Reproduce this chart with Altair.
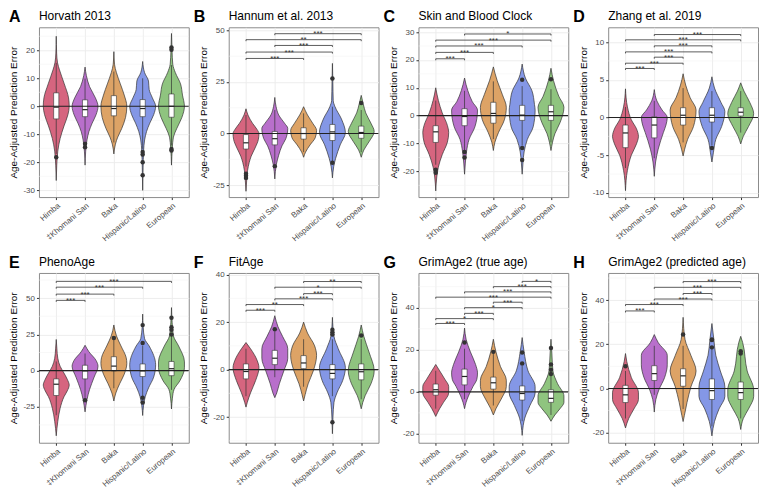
import altair as alt
import pandas as pd

GROUPS = ["Himba", "‡Khomani San", "Baka", "Hispanic/Latino", "European"]
COLORS = ["#D6657F", "#B86FCB", "#DDA366", "#8497E6", "#8FC47F"]

LETTERS = ["A", "B", "C", "D", "E", "F", "G", "H"]
TITLES = ["Horvath 2013", "Hannum et al. 2013", "Skin and Blood Clock", "Zhang et al. 2019",
          "PhenoAge", "FitAge", "GrimAge2 (true age)", "GrimAge2 (predicted age)"]
Y_DOMAINS = [[-32.4, 28.2], [-30.8, 51.5], [-29.2, 31.7], [-10.55, 11.96],
             [-49.8, 67.4], [-30.8, 40.7], [-24.2, 56.5], [-24.6, 52.3]]
Y_TICKS = [[-30, -20, -10, 0, 10, 20], [-25, 0, 25, 50], [-20, -10, 0, 10, 20, 30],
           [-10, -5, 0, 5, 10], [-25, 0, 25, 50], [-20, 0, 20, 40], [-20, 0, 20, 40],
           [-20, 0, 20, 40]]

# violin profiles: (value, relative half-width) per group
HORVATH_VIOLINS = [
    [(25, 0), (19, 0.03), (15.5, 0.1), (13, 0.25), (8, 0.62), (3, 0.95), (0, 1.0), (-3, 0.9), (-7, 0.6), (-11.5, 0.3), (-16, 0.12), (-21, 0.04), (-26.5, 0)],
    [(14, 0), (11, 0.1), (7, 0.35), (3, 0.8), (0, 1.0), (-3, 0.85), (-6, 0.55), (-9, 0.3), (-12, 0.15), (-16, 0.05), (-21, 0)],
    [(19.5, 0), (15, 0.05), (12, 0.2), (8, 0.5), (4, 0.8), (0, 1.0), (-4, 0.9), (-8, 0.6), (-11, 0.3), (-13.5, 0.12), (-17, 0)],
    [(16, 0), (12, 0.15), (9, 0.45), (6, 0.5), (3, 0.75), (0, 1.0), (-3, 0.85), (-6, 0.55), (-9, 0.3), (-12, 0.15), (-16, 0.07), (-22, 0.03), (-30, 0)],
    [(26, 0), (20, 0.04), (15, 0.1), (12, 0.3), (8, 0.7), (4, 0.85), (0, 1.0), (-4, 0.8), (-8, 0.4), (-11, 0.15), (-15, 0.06), (-21, 0)],
]
HORVATH_BOXES = [(-17, -4.5, -0.3, 4.8, 15.5), (-12.6, -3.7, -1.2, 2.3, 9.9), (-12.9, -3.4, -0.8, 3.8, 12.4),
                 (-15.2, -3.7, -0.8, 2.4, 10), (-14, -3.9, 0, 4.4, 14.7)]
HORVATH_OUTLIERS = [[-18.2], [-13.4, -14.6], [], [-16.3, -17.2, -20, -24.6], [20.2, 21, -15.2, -15.8]]
HORVATH_SIG = []

HANNUM_VIOLINS = [
    [(12, 0), (9, 0.15), (5, 0.5), (2, 0.85), (0, 1.0), (-3, 0.95), (-7, 0.7), (-11, 0.4), (-14, 0.25), (-18, 0.12), (-22, 0.06), (-28, 0)],
    [(17.5, 0), (13, 0.1), (9, 0.3), (5, 0.75), (2.5, 1.0), (-2.5, 0.85), (-6, 0.55), (-10.5, 0.3), (-15, 0.12), (-22, 0)],
    [(13, 0), (9, 0.3), (5, 0.7), (1.5, 1.0), (-2, 0.9), (-5.5, 0.5), (-9, 0.15), (-11.5, 0)],
    [(34, 0), (25, 0.03), (16, 0.06), (13, 0.2), (7, 0.7), (0.5, 1.0), (-5.5, 0.6), (-12, 0.25), (-16, 0.1), (-21.5, 0)],
    [(18.5, 0), (14.5, 0.15), (10, 0.35), (5, 0.75), (1, 1.0), (-4, 0.6), (-8, 0.2), (-11.5, 0)],
]
HANNUM_BOXES = [(-16, -7.5, -4.5, -0.5, 9), (-15, -5.5, -2.5, 1, 11.4), (-9, -2.7, 0, 2.8, 9.8),
                (-13.6, -3.4, 0.8, 4.4, 13), (-9, -2.3, 0.5, 3.6, 11.4)]
HANNUM_OUTLIERS = [[-19.5, -20.5, -21.5], [-15.8], [], [26.7, -14.2], [14.8]]
HANNUM_SIG = [(1, 3, 36.4, "***"), (1, 4, 39.5, "***"), (2, 4, 42.7, "***"), (1, 5, 45.5, "**"), (2, 5, 48.4, "***")]

SKINBLOOD_VIOLINS = [
    [(10, 0), (5.5, 0.2), (1, 0.5), (-3.5, 0.9), (-6, 1.0), (-9.5, 0.9), (-14, 0.5), (-18.5, 0.2), (-22, 0.08), (-27, 0)],
    [(13.5, 0), (9, 0.25), (5, 0.6), (2, 1.0), (-1, 0.95), (-4, 0.8), (-8.5, 0.35), (-13, 0.15), (-17, 0.06), (-21, 0)],
    [(17.5, 0), (12.5, 0.3), (7.5, 0.7), (3, 1.0), (-1.5, 0.85), (-6, 0.4), (-9.5, 0.12), (-12.5, 0)],
    [(18.5, 0), (13.5, 0.25), (9, 0.75), (4, 0.95), (2, 1.0), (-4, 0.85), (-8.5, 0.4), (-13, 0.15), (-17, 0.06), (-21, 0)],
    [(17, 0), (12.5, 0.2), (7, 0.6), (3, 1.0), (-2.5, 0.7), (-6.5, 0.3), (-9.5, 0.12), (-12.5, 0)],
]
SKINBLOOD_BOXES = [(-17.6, -9.6, -5.8, -3.6, 5.4), (-12.5, -3.6, -0.3, 2.5, 8.9), (-8.4, -2.7, 0.8, 4.8, 12.3),
                   (-10.7, -1.7, 0.2, 3.7, 10.6), (-9.6, -1.7, 1.4, 3.7, 9.5)]
SKINBLOOD_OUTLIERS = [[-19.4, -20.5], [-13, -15], [], [12.9, -11.6, -15.9], [13.1]]
SKINBLOOD_SIG = [(1, 2, 20.4, "***"), (1, 3, 22.7, "***"), (1, 4, 25, "***"), (1, 5, 27.1, "***"), (2, 5, 29.3, "*")]

ZHANG_VIOLINS = [
    [(3.8, 0), (1.4, 0.15), (-0.3, 0.45), (-1.5, 0.85), (-2.5, 1.0), (-3.5, 0.85), (-5, 0.45), (-7, 0.15), (-9.7, 0)],
    [(3.7, 0), (2.2, 0.2), (1, 0.6), (0, 1.0), (-1, 0.9), (-2, 0.7), (-4.2, 0.3), (-5.9, 0.1), (-7.8, 0)],
    [(5.8, 0), (4.3, 0.2), (2.6, 0.55), (1, 1.0), (-1.2, 0.8), (-2.9, 0.35), (-4.2, 0.12), (-5.1, 0)],
    [(5.4, 0), (3.9, 0.2), (2, 0.7), (0.8, 1.0), (-1.2, 0.75), (-2.9, 0.3), (-4.6, 0.12), (-5.9, 0)],
    [(4.6, 0), (3.5, 0.25), (2, 0.7), (0.5, 1.0), (-1.2, 0.6), (-2.5, 0.2), (-3.5, 0)],
]
ZHANG_BOXES = [(-6.7, -4, -2.05, -1, 1.4), (-5.4, -2.7, -1, 0.1, 2.2), (-3.3, -1, 0.3, 1.3, 3.9),
               (-3.7, -0.6, 0.3, 1.3, 3.5), (-2, 0.2, 0.7, 1.3, 3.5)]
ZHANG_OUTLIERS = [[], [], [], [-4.05], []]
ZHANG_SIG = [(1, 2, 6.5, "***"), (1, 3, 7.2, "***"), (2, 3, 8.0, "***"), (1, 4, 8.7, "***"),
             (2, 4, 9.5, "***"), (1, 5, 10.3, "***"), (2, 5, 11.0, "***")]

PHENO_VIOLINS = [
    [(21.5, 0), (15, 0.05), (8.5, 0.12), (3, 0.3), (-1, 0.55), (-6, 0.85), (-10, 1.0), (-14, 0.85), (-18, 0.6), (-26, 0.3), (-35, 0.12), (-45, 0)],
    [(17.5, 0), (13, 0.3), (7, 0.85), (3, 1.0), (-4.5, 0.7), (-13, 0.35), (-20, 0.15), (-28.5, 0)],
    [(31.5, 0), (24, 0.2), (17, 0.55), (9, 0.95), (5, 1.0), (-2.5, 0.8), (-9, 0.45), (-15.5, 0.15), (-21, 0)],
    [(39, 0), (30, 0.04), (22, 0.15), (17, 0.5), (4, 1.0), (-4.5, 0.85), (-12, 0.45), (-18, 0.2), (-24, 0.07), (-31, 0)],
    [(43.5, 0), (33, 0.05), (24, 0.15), (17, 0.55), (6, 1.0), (2, 1.0), (-7, 0.65), (-13, 0.2), (-19, 0.07), (-26.5, 0)],
]
PHENO_BOXES = [(-30.8, -17.2, -9.4, -5.7, 6.3), (-19.9, -5.7, -0.2, 3.7, 11.8), (-12.2, -0.2, 3.1, 9.6, 21.6),
               (-17.7, -4.1, -0.2, 4.6, 17.2), (-13.3, -3.5, 1.3, 6.3, 23.8)]
PHENO_OUTLIERS = [[], [-20.5], [22.5], [31.4, 19, -18.8, -22], [36.5, 29.9, 28.2, 24.9]]
PHENO_SIG = [(1, 2, 48.5, "***"), (1, 3, 52.8, "***"), (1, 4, 57.6, "***"), (1, 5, 61.6, "***")]

FIT_VIOLINS = [
    [(11.4, 0), (8.8, 0.35), (4, 0.85), (0.8, 1.0), (-4.5, 0.75), (-9.8, 0.35), (-13.8, 0.1), (-15.8, 0)],
    [(22.7, 0), (18, 0.25), (14, 0.6), (8.8, 1.0), (4.8, 1.0), (-0.5, 0.7), (-6, 0.35), (-9.8, 0.15), (-11.8, 0)],
    [(20, 0), (15.4, 0.3), (10, 0.85), (6, 1.0), (-0.5, 0.75), (-6, 0.35), (-10.5, 0.12), (-13.2, 0)],
    [(22, 0), (14, 0.12), (8.8, 0.45), (0.8, 1.0), (-4.5, 0.8), (-9.8, 0.35), (-13.8, 0.12), (-20, 0.04), (-27, 0)],
    [(18.8, 0), (14, 0.2), (7.4, 0.6), (-0.5, 1.0), (-6, 0.75), (-11, 0.3), (-13.8, 0.12), (-16.5, 0)],
]
FIT_BOXES = [(-11.2, -3.9, -0.8, 2.4, 8.8), (-3.2, 2.1, 4.8, 8.1, 16.1), (-7.2, 0.4, 2.8, 5.9, 12.8),
             (-11.2, -3.9, -1.6, 2.1, 12.8), (-12.5, -4.3, -0.9, 2.4, 12.8)]
FIT_OUTLIERS = [[], [17], [], [16.8, 15.7, 14.8, -22.2], [14.4]]
FIT_SIG = [(1, 2, 25, "***"), (1, 3, 27.4, "**"), (2, 4, 29.8, "***"), (3, 4, 32, "***"),
           (2, 5, 34.7, "*"), (3, 5, 37.1, "**")]

GRIMTRUE_VIOLINS = [
    [(13, 0), (10, 0.3), (6, 0.7), (2.5, 1.0), (-0.5, 1.0), (-5, 0.6), (-8, 0.3), (-11.7, 0)],
    [(30.3, 0), (25, 0.12), (19, 0.45), (13, 0.85), (9, 1.0), (6, 0.95), (2.5, 0.65), (-2, 0.3), (-5, 0.12), (-8, 0)],
    [(25, 0), (19, 0.2), (12, 0.55), (5.5, 1.0), (2.5, 1.0), (-3.5, 0.6), (-8, 0.2), (-11, 0)],
    [(25.8, 0), (19, 0.15), (10, 0.45), (2.5, 1.0), (-0.5, 1.0), (-6.5, 0.6), (-12.5, 0.2), (-16, 0.08), (-20.7, 0)],
    [(25, 0), (18, 0.07), (10, 0.15), (4, 0.5), (-2, 1.0), (-5, 1.0), (-8, 0.7), (-11, 0.3), (-14, 0)],
]
GRIMTRUE_BOXES = [(-8, -1.6, 1, 3.7, 10), (-3.5, 3.3, 7.3, 10.8, 20.5), (-6.5, 1.3, 4.3, 7, 18.3),
                  (-14, -3.9, -0.8, 2.8, 12.3), (-11, -5, -3.1, 1, 7.8)]
GRIMTRUE_OUTLIERS = [[], [23.5], [19], [18.7, 13.5], [20.8, 13, 10.5, 8.5]]
GRIMTRUE_SIG = [(1, 2, 32.5, "***"), (1, 3, 34.8, "*"), (2, 3, 37.3, "***"), (2, 4, 40, "*"),
                (3, 4, 42.6, "***"), (1, 5, 45, "***"), (2, 5, 47.5, "***"), (3, 5, 50, "***"),
                (4, 5, 52.5, "*")]

GRIMPRED_VIOLINS = [
    [(15.8, 0), (12.2, 0.1), (5, 0.45), (-2, 1.0), (-5, 1.0), (-9.3, 0.65), (-13.6, 0.25), (-17.9, 0)],
    [(24.4, 0), (20.8, 0.3), (15, 1.0), (10.7, 1.0), (5, 0.8), (-0.7, 0.35), (-5, 0.12), (-10.7, 0)],
    [(32.2, 0), (22.2, 0.15), (15, 0.6), (7.9, 1.0), (0.7, 0.6), (-6.4, 0.3), (-12.2, 0.1), (-15, 0)],
    [(29.4, 0), (22.2, 0.15), (15, 0.3), (7.9, 0.65), (0.7, 1.0), (-3.6, 1.0), (-9.3, 0.55), (-15, 0.2), (-21.5, 0)],
    [(23.6, 0), (20.8, 0.15), (7.9, 0.5), (-0.7, 1.0), (-3.6, 1.0), (-9.3, 0.6), (-13.6, 0.2), (-18.6, 0)],
]
GRIMPRED_BOXES = [(-13.6, -6.4, -2.9, 1.4, 7.9), (-2.9, 3.6, 6.7, 10.3, 19.3), (-9.3, 1, 5.7, 8.9, 19.3),
                  (-17.2, -5, -1, 4.3, 17.9), (-13.6, -5, -1.9, 2.9, 15)]
GRIMPRED_OUTLIERS = [[10], [], [24.4], [22.2, 21.9, 18.6], [16.8, 15.8]]
GRIMPRED_SIG = [(1, 2, 35.1, "***"), (1, 3, 38, "***"), (2, 4, 40.5, "***"), (3, 4, 43, "***"),
                (2, 5, 45.8, "***"), (3, 5, 48.4, "***")]

PANELS = [
    (HORVATH_VIOLINS, HORVATH_BOXES, HORVATH_OUTLIERS, HORVATH_SIG),
    (HANNUM_VIOLINS, HANNUM_BOXES, HANNUM_OUTLIERS, HANNUM_SIG),
    (SKINBLOOD_VIOLINS, SKINBLOOD_BOXES, SKINBLOOD_OUTLIERS, SKINBLOOD_SIG),
    (ZHANG_VIOLINS, ZHANG_BOXES, ZHANG_OUTLIERS, ZHANG_SIG),
    (PHENO_VIOLINS, PHENO_BOXES, PHENO_OUTLIERS, PHENO_SIG),
    (FIT_VIOLINS, FIT_BOXES, FIT_OUTLIERS, FIT_SIG),
    (GRIMTRUE_VIOLINS, GRIMTRUE_BOXES, GRIMTRUE_OUTLIERS, GRIMTRUE_SIG),
    (GRIMPRED_VIOLINS, GRIMPRED_BOXES, GRIMPRED_OUTLIERS, GRIMPRED_SIG),
]

FONT = "Liberation Sans"
VIOLIN_HALF = 0.45
BOX_HALF = 0.09
W, H = 150, 170
LABEL_EXPR = "[" + ",".join("'%s'" % g for g in GROUPS) + "][datum.value - 1]"


def make_panel(i):
    violins, boxes, outliers, sigs = PANELS[i]
    dom = Y_DOMAINS[i]
    ticks = Y_TICKS[i]
    span = dom[1] - dom[0]
    step = ticks[1] - ticks[0]
    minors = [t + step / 2 for t in [ticks[0] - step] + ticks if dom[0] < t + step / 2 < dom[1]]

    xsc = alt.Scale(domain=[0.4, 5.6], nice=False, zero=False)
    ysc = alt.Scale(domain=dom, nice=False, zero=False)

    yaxis = alt.Axis(values=ticks, title="Age-Adjusted Prediction Error", labelExpr="toString(datum.value)",
                     grid=True, gridColor="#EBEBEB", gridWidth=0.9, domain=False,
                     tickSize=2.5, tickColor="#333333", labelPadding=2,
                     minExtent=18, maxExtent=18, titlePadding=2)
    xaxis = alt.Axis(values=[1, 2, 3, 4, 5], labelExpr=LABEL_EXPR, title=None, labelAngle=-40,
                     labelOverlap=False, labelBound=False, labelLimit=200,
                     grid=True, gridColor="#EBEBEB", gridWidth=0.9, domain=False,
                     tickSize=2.5, tickColor="#333333", labelPadding=2)

    def Y(f):
        return alt.Y(f, type="quantitative", scale=ysc, axis=yaxis, title="Age-Adjusted Prediction Error")

    def X(f):
        return alt.X(f, type="quantitative", scale=xsc, axis=xaxis, title=None)

    vrows = []
    for g, prof in enumerate(violins):
        for y, w in sorted(prof):
            vrows.append({"group": GROUPS[g], "y": y,
                          "lo": g + 1 - VIOLIN_HALF * w, "hi": g + 1 + VIOLIN_HALF * w})
    vdf = pd.DataFrame(vrows)

    brows = []
    for g, (lo, q1, med, q3, hi) in enumerate(boxes):
        brows.append({"gx": g + 1, "bl": g + 1 - BOX_HALF, "br": g + 1 + BOX_HALF,
                      "lo": lo, "q1": q1, "med": med, "q3": q3, "hi": hi})
    bdf = pd.DataFrame(brows)

    orows = [{"gx": g + 1, "v": v} for g, vals in enumerate(outliers) for v in vals]

    tip = 0.009 * span
    srows = [{"x1": a, "x2": b, "xm": (a + b) / 2, "h": h, "hb": h - tip, "lab": lab}
             for a, b, h, lab in sigs]
    trows = [{"tx": a, "h": h, "hb": h - tip} for a, b, h, lab in sigs] + \
            [{"tx": b, "h": h, "hb": h - tip} for a, b, h, lab in sigs]

    layers = []
    layers.append(alt.Chart(pd.DataFrame({"m": minors})).mark_rule(color="#F0F0F0", strokeWidth=0.5)
                  .encode(y=Y("m")))
    layers.append(
        alt.Chart(vdf).mark_area(orient="horizontal", interpolate="monotone", stroke="#333333",
                                 strokeWidth=0.7, fillOpacity=1, opacity=1)
        .encode(y=Y("y"), x=X("lo"), x2="hi",
                color=alt.Color("group:N", scale=alt.Scale(domain=GROUPS, range=COLORS), legend=None),
                detail="group:N")
    )
    layers.append(alt.Chart(bdf).mark_rule(color="#333333", strokeWidth=0.7)
                  .encode(x=X("gx"), y=Y("lo"), y2="hi"))
    layers.append(alt.Chart(bdf).mark_rect(fill="white", stroke="#333333", strokeWidth=0.6)
                  .encode(x=X("bl"), x2="br", y=Y("q1"), y2="q3"))
    layers.append(alt.Chart(bdf).mark_rule(color="#222222", strokeWidth=1.2)
                  .encode(x=X("bl"), x2="br", y=Y("med")))
    if orows:
        layers.append(alt.Chart(pd.DataFrame(orows)).mark_circle(color="#333333", size=20, opacity=1)
                      .encode(x=X("gx"), y=Y("v")))
    layers.append(alt.Chart(pd.DataFrame({"z": [0]})).mark_rule(color="#222222", strokeWidth=1.1)
                  .encode(y=Y("z")))
    if srows:
        sdf = pd.DataFrame(srows)
        tdf = pd.DataFrame(trows)
        layers.append(alt.Chart(sdf).mark_rule(color="#333333", strokeWidth=0.8)
                      .encode(x=X("x1"), x2="x2", y=Y("h")))
        layers.append(alt.Chart(tdf).mark_rule(color="#333333", strokeWidth=0.8)
                      .encode(x=X("tx"), y=Y("h"), y2="hb"))
        layers.append(alt.Chart(sdf).mark_text(fontSize=8, font=FONT, color="#333333",
                                               baseline="alphabetic", dy=2.5)
                      .encode(x=X("xm"), y=Y("h"), text="lab:N"))
    lx = -30 if i % 4 == 0 else -35
    layers.append(alt.Chart(pd.DataFrame({"t": [LETTERS[i]]}))
                  .mark_text(fontSize=16, fontWeight="bold", font=FONT, color="black",
                             align="left", baseline="middle")
                  .encode(text="t:N", x=alt.value(lx), y=alt.value(-10)))
    layers.append(alt.Chart(pd.DataFrame({"t": [TITLES[i]]}))
                  .mark_text(fontSize=12, font=FONT, color="black", align="left", baseline="middle")
                  .encode(text="t:N", x=alt.value(0), y=alt.value(-11)))

    return alt.layer(*layers).properties(width=W, height=H)


panels = [make_panel(i) for i in range(8)]
chart = alt.concat(*panels, columns=4, spacing={"row": 76, "column": 40}, bounds="flush").properties(
    padding=0
).configure(font=FONT).configure_view(stroke="#8C8C8C", strokeWidth=1).configure_axis(
    labelFont=FONT, labelFontSize=8, labelColor="#4D4D4D", titleFont=FONT, titleFontSize=10,
    titleFontWeight="normal", titleColor="black"
)

chart.save("out.html", embed_options={"renderer": "svg", "actions": False})
